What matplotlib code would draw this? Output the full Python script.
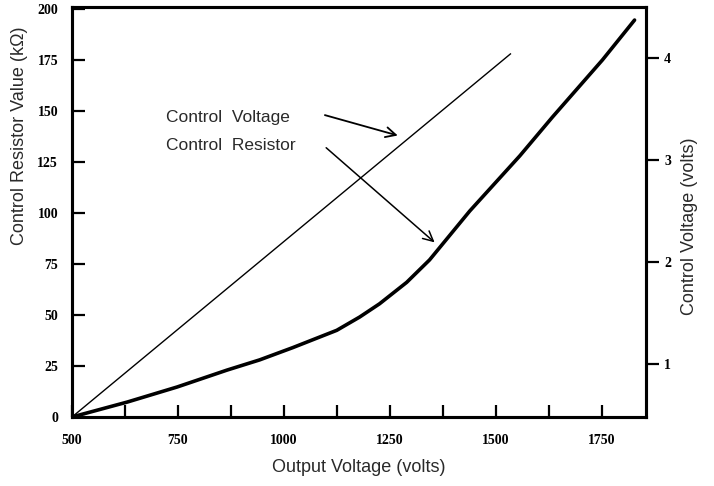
import matplotlib.pyplot as plt

# output voltage (volts) vs control resistor (kOhm)
out_volts = [500, 630, 748, 866, 943, 1021, 1125, 1179, 1226, 1290, 1344, 1439,
             1557, 1634, 1752, 1828]
resistor_k = [0, 7.3, 14.7, 23, 28, 34, 42.5, 49, 55.5, 66, 77, 101,
              128, 147, 175, 194.6]

# control voltage line (right axis)
cv_out_volts = [500, 1535]
cv_volts = [0.48, 4.04]

x_ticks = [500, 750, 1000, 1250, 1500, 1750]
x_minor = [625, 875, 1125, 1375, 1625]
left_ticks = [0, 25, 50, 75, 100, 125, 150, 175, 200]
right_ticks = [1, 2, 3, 4]

text_col = '#2a2a2a'
tick_font = dict(family='Liberation Serif', weight='bold', size=10)

fig = plt.figure(figsize=(7.14, 4.86), dpi=100)
ax = fig.add_axes([72 / 714, 1 - 417 / 486, 574 / 714, 410 / 486])
ax2 = ax.twinx()

ax.plot(out_volts, resistor_k, color='black', lw=2.6,
        solid_capstyle='round', solid_joinstyle='round')
ax2.plot(cv_out_volts, cv_volts, color='black', lw=1.0)

ax.set_xlim(500, 1855)
ax.set_ylim(0, 201)
ax2.set_ylim(0.48, 4.5)

ax.set_xticks(x_ticks)
ax.set_xticks(x_minor, minor=True)
ax.set_yticks(left_ticks)
ax2.set_yticks(right_ticks)

ax.tick_params(axis='x', which='both', direction='in', length=9, width=1.6, pad=12)
ax.tick_params(axis='y', direction='in', length=9, width=1.6, pad=10)
ax2.tick_params(axis='y', direction='out', length=9, width=1.6, pad=4)
for lab in ax.get_xticklabels() + ax.get_yticklabels() + ax2.get_yticklabels():
    lab.set_fontproperties(tick_font)

for a in (ax, ax2):
    for sp in a.spines.values():
        sp.set_linewidth(2.2)

# axis labels
ax.set_xlabel('Output Voltage (volts)', family='Liberation Sans', size=13,
              color=text_col, labelpad=9)
fig.text(20 / 714, 1 - 245 / 486, 'Control Resistor Value (k\u03a9)', rotation=90,
         ha='center', va='bottom', family='Liberation Sans', size=13, color=text_col)
fig.text(690 / 714, 1 - 226 / 486, 'Control Voltage (volts)', rotation=90,
         ha='center', va='center', family='Liberation Sans', size=13, color=text_col)

# annotations
ax.text(722, 147, 'Control  Voltage', family='Liberation Sans', size=12.5,
        color=text_col, va='center', ha='left')
ax.text(722, 133, 'Control  Resistor', family='Liberation Sans', size=12.5,
        color=text_col, va='center', ha='left')
ax.annotate('', xy=(1269, 138), xytext=(1097, 148),
            arrowprops=dict(arrowstyle='->', color='black', lw=1.3,
                            mutation_scale=18, shrinkA=0, shrinkB=0))
ax.annotate('', xy=(1356, 85.6), xytext=(1100, 132),
            arrowprops=dict(arrowstyle='->', color='black', lw=1.1,
                            mutation_scale=18, shrinkA=0, shrinkB=0))

fig.savefig('out.png', dpi=100)
